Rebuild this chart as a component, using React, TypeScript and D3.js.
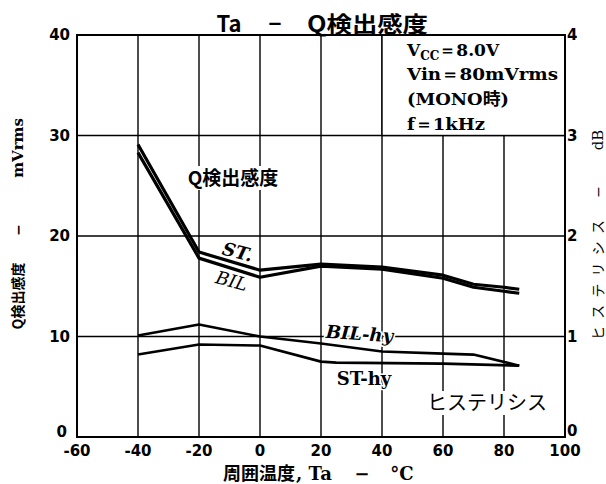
import React from 'react'
import * as d3 from 'd3'

// Q sensitivity (mVrms, left axis)
const qTemps = [-40, -20, 0, 20, 40, 60, 70, 80, 85]
const stQ = [29.1, 18.4, 16.6, 17.2, 16.9, 16.1, 15.2, 14.9, 14.7]
const bilQ = [28.3, 17.8, 15.9, 17.0, 16.7, 15.8, 14.9, 14.5, 14.3]

// hysteresis (dB, right axis)
const bilHyTemps = [-40, -20, 0, 20, 40, 60, 70, 85]
const bilHy = [1.01, 1.12, 1.0, 0.93, 0.85, 0.83, 0.82, 0.71]
const stHyTemps = [-40, -20, 0, 20, 25, 60, 85]
const stHy = [0.82, 0.92, 0.91, 0.75, 0.74, 0.73, 0.71]

const xTicks = [-60, -40, -20, 0, 20, 40, 60, 80, 100]
const leftTicks = [0, 10, 20, 30, 40]
const rightTicks = [0, 1, 2, 3, 4]

const W = 606
const H = 484
const L = 77, R = 565, T = 35, B = 437

const serif = '"DejaVu Serif", "Liberation Serif", serif'
const sans = '"DejaVu Sans", sans-serif'
const cjk = '"Noto Sans CJK JP", sans-serif'

export default function App() {
  const x = d3.scaleLinear().domain([-60, 100]).range([L, R])
  const yL = d3.scaleLinear().domain([0, 40]).range([B, T])
  const yR = d3.scaleLinear().domain([0, 4]).range([B, T])

  const lineL = d3.line<[number, number]>().x(d => x(d[0])).y(d => yL(d[1]))
  const lineR = d3.line<[number, number]>().x(d => x(d[0])).y(d => yR(d[1]))

  const zip = (a: number[], b: number[]) => a.map((v, i) => [v, b[i]] as [number, number])

  const boxX = x(40)
  const boxY = yL(30)

  return (
    <svg width={W} height={H} style={{ position: 'absolute', left: 0, top: 0, background: '#fff' }}>
      <rect width={W} height={H} fill="#fff" />
      {/* grid */}
      {xTicks.slice(1, -1).map(t => (
        <line key={'gx' + t} x1={x(t)} x2={x(t)} y1={T} y2={B} stroke="#000" strokeWidth={1.4} />
      ))}
      {leftTicks.slice(1, -1).map(t => (
        <line key={'gy' + t} x1={L} x2={R} y1={yL(t)} y2={yL(t)} stroke="#000" strokeWidth={1.4} />
      ))}
      {/* condition box */}
      <rect x={boxX} y={T} width={R - boxX} height={boxY - T} fill="#fff" stroke="#000" strokeWidth={1.4} />
      <rect x={L} y={T} width={R - L} height={B - T} fill="none" stroke="#000" strokeWidth={2} />

      {/* in-plot label backgrounds */}
      <rect x={182} y={166} width={102} height={24} fill="#fff" />
      <rect x={423} y={391} width={128} height={24} fill="#fff" />

      {/* Q lines */}
      <path d={lineL(zip(qTemps, stQ)) || ''} fill="none" stroke="#000" strokeWidth={3.2} strokeLinejoin="round" />
      <path d={lineL(zip(qTemps, bilQ)) || ''} fill="none" stroke="#000" strokeWidth={3.2} strokeLinejoin="round" />
      {/* hysteresis lines */}
      <path d={lineR(zip(bilHyTemps, bilHy)) || ''} fill="none" stroke="#000" strokeWidth={2.6} strokeLinejoin="round" />
      <path d={lineR(zip(stHyTemps, stHy)) || ''} fill="none" stroke="#000" strokeWidth={2.6} strokeLinejoin="round" />

      {/* title */}
      <g fontFamily={cjk} fontWeight="bold" fontSize={22}>
        <text x={229} y={32} textAnchor="middle">Ta</text>
        <text x={275} y={32} textAnchor="middle">−</text>
        <text x={307} y={32} textLength={121} lengthAdjust="spacingAndGlyphs">Q検出感度</text>
      </g>

      {/* conditions */}
      <g fontFamily={serif} fontWeight="bold" fontSize={17}>
        <text x={407} y={56}>
          V<tspan fontSize={12} dy={4}>CC</tspan><tspan dy={-4}>＝8.0V</tspan>
        </text>
        <text x={407} y={80} textLength={151} lengthAdjust="spacingAndGlyphs">Vin＝80mVrms</text>
        <text x={407} y={105} textLength={102} lengthAdjust="spacingAndGlyphs">(MONO<tspan fontFamily={cjk}>時</tspan>)</text>
        <text x={407} y={130} textLength={78} lengthAdjust="spacingAndGlyphs">f＝1kHz</text>
      </g>

      {/* tick labels */}
      <g fontFamily={sans} fontWeight="bold" fontSize={15}>
        {xTicks.map(t => (
          <text key={'xt' + t} x={x(t)} y={456} textAnchor="middle">{t}</text>
        ))}
        {leftTicks.map(t => (
          <text key={'lt' + t} x={t === 0 ? 67 : 70} y={yL(t) + (t === 0 ? 0 : 5)} textAnchor="end">{t}</text>
        ))}
        {rightTicks.map(t => (
          <text key={'rt' + t} x={567} y={yR(t) + (t === 0 ? -1 : 5)} textAnchor="start">{t}</text>
        ))}
      </g>

      {/* x axis title */}
      <g fontSize={18} fontWeight="bold">
        <text x={223} y={480} fontFamily={cjk}>周囲温度</text>
        <text x={296} y={480} fontFamily={serif}>, Ta</text>
        <text x={362} y={480} fontFamily={serif} textAnchor="middle">−</text>
        <text x={402} y={480} fontFamily={serif} textAnchor="middle">°C</text>
      </g>

      {/* left y title */}
      <g fontWeight="bold">
        <text transform="translate(23,296) rotate(-90)" textAnchor="middle" fontSize={14} fontFamily={cjk}>Q検出感度</text>
        <text transform="translate(23,230) rotate(-90)" textAnchor="middle" fontSize={14} fontFamily={serif}>−</text>
        <text transform="translate(23,148) rotate(-90)" textAnchor="middle" fontSize={15} fontFamily={serif}>mVrms</text>
      </g>

      {/* right y title */}
      <text transform="translate(603,280) rotate(-90)" textAnchor="middle" fontSize={14} fontFamily={cjk}
        textLength={120} lengthAdjust="spacing">ヒステリシス</text>
      <text transform="translate(603,192) rotate(-90)" textAnchor="middle" fontSize={14} fontFamily={serif}>−</text>
      <text transform="translate(603,140) rotate(-90)" textAnchor="middle" fontSize={15} fontFamily={serif}>dB</text>

      {/* in-plot labels */}
      <text x={233} y={185} textAnchor="middle" fontFamily={cjk} fontWeight="bold" fontSize={19}>Q検出感度</text>
      <text transform="translate(236,258) rotate(14)" textAnchor="middle" fontFamily={serif} fontStyle="italic" fontWeight="bold" fontSize={18}
        stroke="#fff" strokeWidth={3} paintOrder="stroke">ST.</text>
      <text transform="translate(230,287) rotate(15)" textAnchor="middle" fontFamily={serif} fontStyle="italic" fontSize={18}
        stroke="#fff" strokeWidth={3} paintOrder="stroke">BIL</text>
      <text transform="translate(359,340) rotate(4)" textAnchor="middle" fontFamily={serif} fontStyle="italic" fontWeight="bold" fontSize={18}
        stroke="#fff" strokeWidth={3} paintOrder="stroke">BIL-hy</text>
      <text x={364} y={385} textAnchor="middle" fontFamily={serif} fontWeight="bold" fontSize={18}
        stroke="#fff" strokeWidth={3} paintOrder="stroke">ST-hy</text>
      <text x={487} y={410} textAnchor="middle" fontFamily={cjk} fontSize={20}>ヒステリシス</text>
    </svg>
  )
}
